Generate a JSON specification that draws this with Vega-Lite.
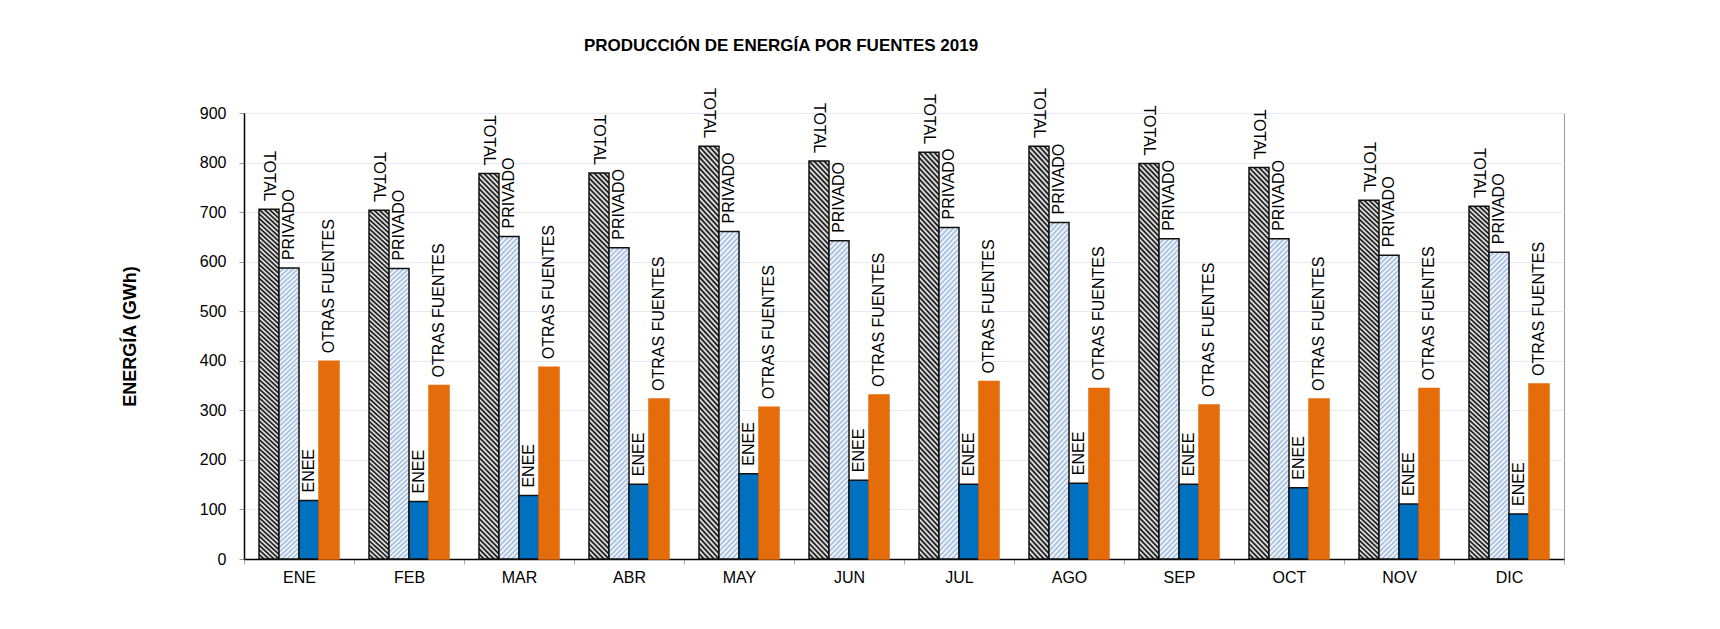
{
  "$schema": "https://vega.github.io/schema/vega-lite/v6.json",
  "width": 1320,
  "height": 446,
  "autosize": {"type": "none"},
  "padding": {"left": 244, "top": 113, "right": 156, "bottom": 70},
  "background": "white",
  "title": {
    "text": "PRODUCCIÓN DE ENERGÍA POR FUENTES 2019",
    "font": "Liberation Sans",
    "fontSize": 17,
    "fontWeight": "bold",
    "color": "black",
    "anchor": "middle",
    "dx": -123,
    "offset": 33
  },
  "data": {
    "values": [
      {"mes": "ENE", "TOTAL": 706, "PRIVADO": 587, "ENEE": 118, "OTRAS FUENTES": 399},
      {"mes": "FEB", "TOTAL": 704, "PRIVADO": 586, "ENEE": 116, "OTRAS FUENTES": 350},
      {"mes": "MAR", "TOTAL": 778, "PRIVADO": 651, "ENEE": 128, "OTRAS FUENTES": 387},
      {"mes": "ABR", "TOTAL": 779, "PRIVADO": 628, "ENEE": 151, "OTRAS FUENTES": 323},
      {"mes": "MAY", "TOTAL": 833, "PRIVADO": 661, "ENEE": 172, "OTRAS FUENTES": 306},
      {"mes": "JUN", "TOTAL": 803, "PRIVADO": 642, "ENEE": 159, "OTRAS FUENTES": 331},
      {"mes": "JUL", "TOTAL": 821, "PRIVADO": 669, "ENEE": 151, "OTRAS FUENTES": 358},
      {"mes": "AGO", "TOTAL": 833, "PRIVADO": 679, "ENEE": 153, "OTRAS FUENTES": 344},
      {"mes": "SEP", "TOTAL": 798, "PRIVADO": 646, "ENEE": 151, "OTRAS FUENTES": 311},
      {"mes": "OCT", "TOTAL": 790, "PRIVADO": 646, "ENEE": 144, "OTRAS FUENTES": 323},
      {"mes": "NOV", "TOTAL": 724, "PRIVADO": 613, "ENEE": 111, "OTRAS FUENTES": 344},
      {"mes": "DIC", "TOTAL": 712, "PRIVADO": 619, "ENEE": 91, "OTRAS FUENTES": 353}
    ]
  },
  "transform": [
    {"fold": ["TOTAL", "PRIVADO", "ENEE", "OTRAS FUENTES"], "as": ["fuente", "valor"]}
  ],
  "encoding": {
    "x": {
      "field": "mes",
      "type": "nominal",
      "sort": ["ENE", "FEB", "MAR", "ABR", "MAY", "JUN", "JUL", "AGO", "SEP", "OCT", "NOV", "DIC"],
      "scale": {"paddingInner": 0, "paddingOuter": 0},
      "axis": {
        "title": null,
        "labelAngle": 0,
        "labelFont": "Liberation Sans",
        "labelFontSize": 16,
        "labelColor": "black",
        "labelPadding": 5,
        "tickBand": "extent",
        "tickSize": 5,
        "tickColor": "#aaaaaa",
        "domainColor": "black",
        "domainWidth": 1.5,
        "grid": false
      }
    },
    "xOffset": {
      "field": "fuente",
      "type": "nominal",
      "sort": ["TOTAL", "PRIVADO", "ENEE", "OTRAS FUENTES"],
      "scale": {"domain": ["TOTAL", "PRIVADO", "ENEE", "OTRAS FUENTES"], "paddingInner": 0, "paddingOuter": 0.75}
    },
    "y": {
      "field": "valor",
      "type": "quantitative",
      "scale": {"domain": [0, 900], "nice": false},
      "axis": {
        "title": "ENERGÍA (GWh)",
        "titleFont": "Liberation Sans",
        "titleFontSize": 18,
        "titleFontWeight": "bold",
        "titleColor": "black",
        "titlePadding": 60,
        "values": [0, 100, 200, 300, 400, 500, 600, 700, 800, 900],
        "labelFont": "Liberation Sans",
        "labelFontSize": 16,
        "labelColor": "black",
        "labelPadding": 13,
        "tickSize": 5,
        "tickColor": "#999999",
        "domainColor": "black",
        "domainWidth": 1.5,
        "grid": true,
        "gridColor": "#e8e8f6",
        "gridWidth": 1
      }
    }
  },
  "layer": [
    {
      "transform": [{"filter": "datum.fuente === 'TOTAL'"}],
      "mark": {
        "type": "bar",
        "strokeWidth": 1.5,
        "stroke": "#111111",
        "fill": {
          "gradient": "linear",
          "x1": 0, "y1": 1, "x2": 0.05525, "y2": -0.0497,
          "stops": [
            {"offset": 0, "color": "#000"}, {"offset": 0.00625, "color": "#fff"}, {"offset": 0.0125, "color": "#000"}, {"offset": 0.01875, "color": "#fff"},
            {"offset": 0.025, "color": "#000"}, {"offset": 0.03125, "color": "#fff"}, {"offset": 0.0375, "color": "#000"}, {"offset": 0.04375, "color": "#fff"},
            {"offset": 0.05, "color": "#000"}, {"offset": 0.05625, "color": "#fff"}, {"offset": 0.0625, "color": "#000"}, {"offset": 0.06875, "color": "#fff"},
            {"offset": 0.075, "color": "#000"}, {"offset": 0.08125, "color": "#fff"}, {"offset": 0.0875, "color": "#000"}, {"offset": 0.09375, "color": "#fff"},
            {"offset": 0.1, "color": "#000"}, {"offset": 0.10625, "color": "#fff"}, {"offset": 0.1125, "color": "#000"}, {"offset": 0.11875, "color": "#fff"},
            {"offset": 0.125, "color": "#000"}, {"offset": 0.13125, "color": "#fff"}, {"offset": 0.1375, "color": "#000"}, {"offset": 0.14375, "color": "#fff"},
            {"offset": 0.15, "color": "#000"}, {"offset": 0.15625, "color": "#fff"}, {"offset": 0.1625, "color": "#000"}, {"offset": 0.16875, "color": "#fff"},
            {"offset": 0.175, "color": "#000"}, {"offset": 0.18125, "color": "#fff"}, {"offset": 0.1875, "color": "#000"}, {"offset": 0.19375, "color": "#fff"},
            {"offset": 0.2, "color": "#000"}, {"offset": 0.20625, "color": "#fff"}, {"offset": 0.2125, "color": "#000"}, {"offset": 0.21875, "color": "#fff"},
            {"offset": 0.225, "color": "#000"}, {"offset": 0.23125, "color": "#fff"}, {"offset": 0.2375, "color": "#000"}, {"offset": 0.24375, "color": "#fff"},
            {"offset": 0.25, "color": "#000"}, {"offset": 0.25625, "color": "#fff"}, {"offset": 0.2625, "color": "#000"}, {"offset": 0.26875, "color": "#fff"},
            {"offset": 0.275, "color": "#000"}, {"offset": 0.28125, "color": "#fff"}, {"offset": 0.2875, "color": "#000"}, {"offset": 0.29375, "color": "#fff"},
            {"offset": 0.3, "color": "#000"}, {"offset": 0.30625, "color": "#fff"}, {"offset": 0.3125, "color": "#000"}, {"offset": 0.31875, "color": "#fff"},
            {"offset": 0.325, "color": "#000"}, {"offset": 0.33125, "color": "#fff"}, {"offset": 0.3375, "color": "#000"}, {"offset": 0.34375, "color": "#fff"},
            {"offset": 0.35, "color": "#000"}, {"offset": 0.35625, "color": "#fff"}, {"offset": 0.3625, "color": "#000"}, {"offset": 0.36875, "color": "#fff"},
            {"offset": 0.375, "color": "#000"}, {"offset": 0.38125, "color": "#fff"}, {"offset": 0.3875, "color": "#000"}, {"offset": 0.39375, "color": "#fff"},
            {"offset": 0.4, "color": "#000"}, {"offset": 0.40625, "color": "#fff"}, {"offset": 0.4125, "color": "#000"}, {"offset": 0.41875, "color": "#fff"},
            {"offset": 0.425, "color": "#000"}, {"offset": 0.43125, "color": "#fff"}, {"offset": 0.4375, "color": "#000"}, {"offset": 0.44375, "color": "#fff"},
            {"offset": 0.45, "color": "#000"}, {"offset": 0.45625, "color": "#fff"}, {"offset": 0.4625, "color": "#000"}, {"offset": 0.46875, "color": "#fff"},
            {"offset": 0.475, "color": "#000"}, {"offset": 0.48125, "color": "#fff"}, {"offset": 0.4875, "color": "#000"}, {"offset": 0.49375, "color": "#fff"},
            {"offset": 0.5, "color": "#000"}, {"offset": 0.50625, "color": "#fff"}, {"offset": 0.5125, "color": "#000"}, {"offset": 0.51875, "color": "#fff"},
            {"offset": 0.525, "color": "#000"}, {"offset": 0.53125, "color": "#fff"}, {"offset": 0.5375, "color": "#000"}, {"offset": 0.54375, "color": "#fff"},
            {"offset": 0.55, "color": "#000"}, {"offset": 0.55625, "color": "#fff"}, {"offset": 0.5625, "color": "#000"}, {"offset": 0.56875, "color": "#fff"},
            {"offset": 0.575, "color": "#000"}, {"offset": 0.58125, "color": "#fff"}, {"offset": 0.5875, "color": "#000"}, {"offset": 0.59375, "color": "#fff"},
            {"offset": 0.6, "color": "#000"}, {"offset": 0.60625, "color": "#fff"}, {"offset": 0.6125, "color": "#000"}, {"offset": 0.61875, "color": "#fff"},
            {"offset": 0.625, "color": "#000"}, {"offset": 0.63125, "color": "#fff"}, {"offset": 0.6375, "color": "#000"}, {"offset": 0.64375, "color": "#fff"},
            {"offset": 0.65, "color": "#000"}, {"offset": 0.65625, "color": "#fff"}, {"offset": 0.6625, "color": "#000"}, {"offset": 0.66875, "color": "#fff"},
            {"offset": 0.675, "color": "#000"}, {"offset": 0.68125, "color": "#fff"}, {"offset": 0.6875, "color": "#000"}, {"offset": 0.69375, "color": "#fff"},
            {"offset": 0.7, "color": "#000"}, {"offset": 0.70625, "color": "#fff"}, {"offset": 0.7125, "color": "#000"}, {"offset": 0.71875, "color": "#fff"},
            {"offset": 0.725, "color": "#000"}, {"offset": 0.73125, "color": "#fff"}, {"offset": 0.7375, "color": "#000"}, {"offset": 0.74375, "color": "#fff"},
            {"offset": 0.75, "color": "#000"}, {"offset": 0.75625, "color": "#fff"}, {"offset": 0.7625, "color": "#000"}, {"offset": 0.76875, "color": "#fff"},
            {"offset": 0.775, "color": "#000"}, {"offset": 0.78125, "color": "#fff"}, {"offset": 0.7875, "color": "#000"}, {"offset": 0.79375, "color": "#fff"},
            {"offset": 0.8, "color": "#000"}, {"offset": 0.80625, "color": "#fff"}, {"offset": 0.8125, "color": "#000"}, {"offset": 0.81875, "color": "#fff"},
            {"offset": 0.825, "color": "#000"}, {"offset": 0.83125, "color": "#fff"}, {"offset": 0.8375, "color": "#000"}, {"offset": 0.84375, "color": "#fff"},
            {"offset": 0.85, "color": "#000"}, {"offset": 0.85625, "color": "#fff"}, {"offset": 0.8625, "color": "#000"}, {"offset": 0.86875, "color": "#fff"},
            {"offset": 0.875, "color": "#000"}, {"offset": 0.88125, "color": "#fff"}, {"offset": 0.8875, "color": "#000"}, {"offset": 0.89375, "color": "#fff"},
            {"offset": 0.9, "color": "#000"}, {"offset": 0.90625, "color": "#fff"}, {"offset": 0.9125, "color": "#000"}, {"offset": 0.91875, "color": "#fff"},
            {"offset": 0.925, "color": "#000"}, {"offset": 0.93125, "color": "#fff"}, {"offset": 0.9375, "color": "#000"}, {"offset": 0.94375, "color": "#fff"},
            {"offset": 0.95, "color": "#000"}, {"offset": 0.95625, "color": "#fff"}, {"offset": 0.9625, "color": "#000"}, {"offset": 0.96875, "color": "#fff"},
            {"offset": 0.975, "color": "#000"}, {"offset": 0.98125, "color": "#fff"}, {"offset": 0.9875, "color": "#000"}, {"offset": 0.99375, "color": "#fff"},
            {"offset": 1, "color": "#000"}
          ]
        }
      }
    },
    {
      "transform": [{"filter": "datum.fuente === 'PRIVADO'"}],
      "mark": {
        "type": "bar",
        "strokeWidth": 1.5,
        "stroke": "#111111",
        "fill": {
          "gradient": "linear",
          "x1": 0, "y1": 0, "x2": 0.0818, "y2": 1.276,
          "stops": [
            {"offset": 0, "color": "#9cb8dc"}, {"offset": 0.00625, "color": "#fff"}, {"offset": 0.0125, "color": "#9cb8dc"}, {"offset": 0.01875, "color": "#fff"},
            {"offset": 0.025, "color": "#9cb8dc"}, {"offset": 0.03125, "color": "#fff"}, {"offset": 0.0375, "color": "#9cb8dc"}, {"offset": 0.04375, "color": "#fff"},
            {"offset": 0.05, "color": "#9cb8dc"}, {"offset": 0.05625, "color": "#fff"}, {"offset": 0.0625, "color": "#9cb8dc"}, {"offset": 0.06875, "color": "#fff"},
            {"offset": 0.075, "color": "#9cb8dc"}, {"offset": 0.08125, "color": "#fff"}, {"offset": 0.0875, "color": "#9cb8dc"}, {"offset": 0.09375, "color": "#fff"},
            {"offset": 0.1, "color": "#9cb8dc"}, {"offset": 0.10625, "color": "#fff"}, {"offset": 0.1125, "color": "#9cb8dc"}, {"offset": 0.11875, "color": "#fff"},
            {"offset": 0.125, "color": "#9cb8dc"}, {"offset": 0.13125, "color": "#fff"}, {"offset": 0.1375, "color": "#9cb8dc"}, {"offset": 0.14375, "color": "#fff"},
            {"offset": 0.15, "color": "#9cb8dc"}, {"offset": 0.15625, "color": "#fff"}, {"offset": 0.1625, "color": "#9cb8dc"}, {"offset": 0.16875, "color": "#fff"},
            {"offset": 0.175, "color": "#9cb8dc"}, {"offset": 0.18125, "color": "#fff"}, {"offset": 0.1875, "color": "#9cb8dc"}, {"offset": 0.19375, "color": "#fff"},
            {"offset": 0.2, "color": "#9cb8dc"}, {"offset": 0.20625, "color": "#fff"}, {"offset": 0.2125, "color": "#9cb8dc"}, {"offset": 0.21875, "color": "#fff"},
            {"offset": 0.225, "color": "#9cb8dc"}, {"offset": 0.23125, "color": "#fff"}, {"offset": 0.2375, "color": "#9cb8dc"}, {"offset": 0.24375, "color": "#fff"},
            {"offset": 0.25, "color": "#9cb8dc"}, {"offset": 0.25625, "color": "#fff"}, {"offset": 0.2625, "color": "#9cb8dc"}, {"offset": 0.26875, "color": "#fff"},
            {"offset": 0.275, "color": "#9cb8dc"}, {"offset": 0.28125, "color": "#fff"}, {"offset": 0.2875, "color": "#9cb8dc"}, {"offset": 0.29375, "color": "#fff"},
            {"offset": 0.3, "color": "#9cb8dc"}, {"offset": 0.30625, "color": "#fff"}, {"offset": 0.3125, "color": "#9cb8dc"}, {"offset": 0.31875, "color": "#fff"},
            {"offset": 0.325, "color": "#9cb8dc"}, {"offset": 0.33125, "color": "#fff"}, {"offset": 0.3375, "color": "#9cb8dc"}, {"offset": 0.34375, "color": "#fff"},
            {"offset": 0.35, "color": "#9cb8dc"}, {"offset": 0.35625, "color": "#fff"}, {"offset": 0.3625, "color": "#9cb8dc"}, {"offset": 0.36875, "color": "#fff"},
            {"offset": 0.375, "color": "#9cb8dc"}, {"offset": 0.38125, "color": "#fff"}, {"offset": 0.3875, "color": "#9cb8dc"}, {"offset": 0.39375, "color": "#fff"},
            {"offset": 0.4, "color": "#9cb8dc"}, {"offset": 0.40625, "color": "#fff"}, {"offset": 0.4125, "color": "#9cb8dc"}, {"offset": 0.41875, "color": "#fff"},
            {"offset": 0.425, "color": "#9cb8dc"}, {"offset": 0.43125, "color": "#fff"}, {"offset": 0.4375, "color": "#9cb8dc"}, {"offset": 0.44375, "color": "#fff"},
            {"offset": 0.45, "color": "#9cb8dc"}, {"offset": 0.45625, "color": "#fff"}, {"offset": 0.4625, "color": "#9cb8dc"}, {"offset": 0.46875, "color": "#fff"},
            {"offset": 0.475, "color": "#9cb8dc"}, {"offset": 0.48125, "color": "#fff"}, {"offset": 0.4875, "color": "#9cb8dc"}, {"offset": 0.49375, "color": "#fff"},
            {"offset": 0.5, "color": "#9cb8dc"}, {"offset": 0.50625, "color": "#fff"}, {"offset": 0.5125, "color": "#9cb8dc"}, {"offset": 0.51875, "color": "#fff"},
            {"offset": 0.525, "color": "#9cb8dc"}, {"offset": 0.53125, "color": "#fff"}, {"offset": 0.5375, "color": "#9cb8dc"}, {"offset": 0.54375, "color": "#fff"},
            {"offset": 0.55, "color": "#9cb8dc"}, {"offset": 0.55625, "color": "#fff"}, {"offset": 0.5625, "color": "#9cb8dc"}, {"offset": 0.56875, "color": "#fff"},
            {"offset": 0.575, "color": "#9cb8dc"}, {"offset": 0.58125, "color": "#fff"}, {"offset": 0.5875, "color": "#9cb8dc"}, {"offset": 0.59375, "color": "#fff"},
            {"offset": 0.6, "color": "#9cb8dc"}, {"offset": 0.60625, "color": "#fff"}, {"offset": 0.6125, "color": "#9cb8dc"}, {"offset": 0.61875, "color": "#fff"},
            {"offset": 0.625, "color": "#9cb8dc"}, {"offset": 0.63125, "color": "#fff"}, {"offset": 0.6375, "color": "#9cb8dc"}, {"offset": 0.64375, "color": "#fff"},
            {"offset": 0.65, "color": "#9cb8dc"}, {"offset": 0.65625, "color": "#fff"}, {"offset": 0.6625, "color": "#9cb8dc"}, {"offset": 0.66875, "color": "#fff"},
            {"offset": 0.675, "color": "#9cb8dc"}, {"offset": 0.68125, "color": "#fff"}, {"offset": 0.6875, "color": "#9cb8dc"}, {"offset": 0.69375, "color": "#fff"},
            {"offset": 0.7, "color": "#9cb8dc"}, {"offset": 0.70625, "color": "#fff"}, {"offset": 0.7125, "color": "#9cb8dc"}, {"offset": 0.71875, "color": "#fff"},
            {"offset": 0.725, "color": "#9cb8dc"}, {"offset": 0.73125, "color": "#fff"}, {"offset": 0.7375, "color": "#9cb8dc"}, {"offset": 0.74375, "color": "#fff"},
            {"offset": 0.75, "color": "#9cb8dc"}, {"offset": 0.75625, "color": "#fff"}, {"offset": 0.7625, "color": "#9cb8dc"}, {"offset": 0.76875, "color": "#fff"},
            {"offset": 0.775, "color": "#9cb8dc"}, {"offset": 0.78125, "color": "#fff"}, {"offset": 0.7875, "color": "#9cb8dc"}, {"offset": 0.79375, "color": "#fff"},
            {"offset": 0.8, "color": "#9cb8dc"}, {"offset": 0.80625, "color": "#fff"}, {"offset": 0.8125, "color": "#9cb8dc"}, {"offset": 0.81875, "color": "#fff"},
            {"offset": 0.825, "color": "#9cb8dc"}, {"offset": 0.83125, "color": "#fff"}, {"offset": 0.8375, "color": "#9cb8dc"}, {"offset": 0.84375, "color": "#fff"},
            {"offset": 0.85, "color": "#9cb8dc"}
          ]
        }
      }
    },
    {
      "transform": [{"filter": "datum.fuente === 'ENEE' || datum.fuente === 'OTRAS FUENTES'"}],
      "mark": {"type": "bar", "strokeWidth": 1.5},
      "encoding": {
        "fill": {
          "field": "fuente",
          "type": "nominal",
          "scale": {
            "domain": ["ENEE", "OTRAS FUENTES"],
            "range": ["#0070C0", "#E46C0A"]
          },
          "legend": null
        },
        "stroke": {
          "field": "fuente",
          "type": "nominal",
          "scale": {
            "domain": ["ENEE", "OTRAS FUENTES"],
            "range": ["#111111", "#E46C0A"]
          },
          "legend": null
        }
      }
    },
    {
      "transform": [{"filter": "datum.fuente !== 'TOTAL'"}],
      "mark": {
        "type": "text",
        "angle": 270,
        "align": "left",
        "baseline": "middle",
        "dx": 8,
        "font": "Liberation Sans",
        "fontSize": 16,
        "color": "black"
      },
      "encoding": {"text": {"field": "fuente"}}
    },
    {
      "transform": [{"filter": "datum.fuente === 'TOTAL'"}],
      "mark": {
        "type": "text",
        "angle": 90,
        "align": "right",
        "baseline": "middle",
        "dx": -8,
        "font": "Liberation Sans",
        "fontSize": 16,
        "color": "black"
      },
      "encoding": {"text": {"field": "fuente"}}
    }
  ],
  "config": {
    "view": {"stroke": "#999999", "strokeWidth": 1}
  }
}
